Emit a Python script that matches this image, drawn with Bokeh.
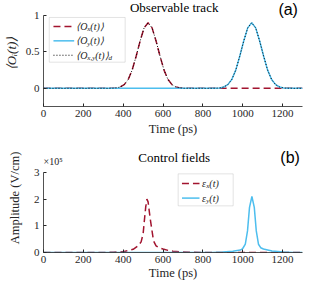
from bokeh.plotting import figure
from bokeh.models import Label, BoxAnnotation, FixedTicker, NumeralTickFormatter, Range1d
from bokeh.layouts import column
from bokeh.embed import file_html
from bokeh.resources import INLINE

# ---------------- data ----------------
obs_time = [0] + list(range(5, 1300, 20)) + [1300]
peak_x = [0.0015, 0.005, 0.018, 0.05, 0.12, 0.25, 0.44, 0.65, 0.83, 0.90,
          0.83, 0.65, 0.44, 0.25, 0.12, 0.05, 0.018, 0.005, 0.0015]
peak_y = [0.0015, 0.005, 0.018, 0.05, 0.12, 0.25, 0.44, 0.65, 0.83, 0.90,
          0.83, 0.65, 0.44, 0.25, 0.12, 0.05, 0.018, 0.005, 0.0015]
obs_x = [0.0] * 18 + peak_x + [0.0] * 30
obs_y = [0.0] * 44 + peak_y + [0.0] * 4
obs_target = [0.0] * 18 + peak_x + [0.0] * 7 + peak_y + [0.0] * 4

ex_time = [0, 300, 350, 400, 450, 475, 490, 500, 507, 513, 519, 525, 530,
           536, 545, 552, 565, 580, 600, 625, 650, 700, 750, 800, 1300]
ex_amp = [0, 0, 0.01, 0.03, 0.12, 0.25, 0.4, 0.7, 1.25, 1.7, 2.0, 1.9, 1.6,
          1.25, 0.8, 0.44, 0.25, 0.18, 0.13, 0.08, 0.05, 0.02, 0.01, 0, 0]
ey_time = [0, 850, 900, 950, 988, 1000, 1013, 1024, 1034, 1046, 1058, 1068,
           1079, 1090, 1104, 1147, 1205, 1250, 1300]
ey_amp = [0, 0, 0.02, 0.05, 0.09, 0.15, 0.31, 0.81, 1.69, 2.1, 1.69, 0.81,
          0.31, 0.18, 0.13, 0.06, 0.02, 0, 0]

time_ticks = [0, 200, 400, 600, 800, 1000, 1200]
obs_ticks = [0, 0.5, 1]
amp_ticks = [0, 1, 2, 3]

RED = "#A2142F"
BLUE = "#4DBEEE"
DARK = "#262626"
SERIF = "Liberation Serif"

EM = {"⟨": 0.39, "⟩": 0.39, "O": 0.72, "x": 0.44, "y": 0.44, "t": 0.28,
      "(": 0.33, ")": 0.33, ",": 0.25, "d": 0.5, "ε": 0.44}


def text_width(s, size):
    return sum(EM.get(c, 0.5) for c in s) * size


def rich(p, x, y, parts, size=10.0):
    dx = 0.0
    for s, sub in parts:
        fs = size * 0.7 if sub else size
        p.add_layout(Label(x=x, y=y, x_offset=dx, y_offset=(-3 if sub else 0),
                           text=s, text_font=SERIF, text_font_style="italic",
                           text_font_size=f"{fs:.1f}px", text_baseline="middle",
                           text_color=DARK))
        dx += text_width(s, fs)


def make_fig(height, yr, ybounds, bottom, ylabel, ylabel_standoff, xlabel_standoff):
    p = figure(width=319, height=height, x_range=Range1d(0, 1300),
               y_range=Range1d(*yr), output_backend="svg", toolbar_location=None,
               min_border_left=43, min_border_right=17, min_border_top=0,
               min_border_bottom=bottom)
    p.outline_line_color = None
    p.grid.visible = False
    for ax in (p.xaxis[0], p.yaxis[0]):
        ax.axis_line_color = DARK
        ax.axis_line_width = 0.8
        ax.major_tick_in = 3
        ax.major_tick_out = 0
        ax.major_tick_line_color = DARK
        ax.minor_tick_line_color = None
        ax.major_label_text_font = SERIF
        ax.major_label_text_font_size = "11px"
        ax.major_label_text_color = DARK
        ax.axis_label_text_font = SERIF
        ax.axis_label_text_font_size = "12.5px"
        ax.axis_label_text_font_style = "normal"
        ax.axis_label_text_color = DARK
    p.xaxis.ticker = FixedTicker(ticks=time_ticks)
    p.xaxis.major_label_standoff = 3
    p.xaxis.axis_label = "Time (ps)"
    p.xaxis.axis_label_standoff = xlabel_standoff
    p.yaxis.bounds = ybounds
    p.yaxis.major_label_standoff = 4
    p.yaxis.axis_label = ylabel
    p.yaxis.axis_label_standoff = ylabel_standoff
    return p


# ---------------- panel (a) ----------------
p1 = make_fig(143, (-0.25, 1.206), (-0.25, 1), 37, "⟨Oᵢ(t)⟩", 4, 2)
p1.yaxis.axis_label_text_font_style = "italic"
p1.yaxis.axis_label_text_font_size = "13px"
p1.yaxis.ticker = FixedTicker(ticks=obs_ticks)
p1.yaxis.formatter = NumeralTickFormatter(format="0.[0]")
p1.line(obs_time, obs_x, line_color=RED, line_width=1.5, line_dash="7 4")
p1.line(obs_time, obs_y, line_color=BLUE, line_width=1.5)
p1.line(obs_time, obs_target, line_color="black", line_width=1, line_dash="1 2")

p1.add_layout(Label(x=656, y=1.11, text="Observable track", text_font=SERIF,
                    text_font_size="13px", text_align="center", text_baseline="middle",
                    text_color="black"))
p1.add_layout(Label(x=1228, y=1.08, text="(a)", text_font="Liberation Sans",
                    text_font_size="16px", text_align="center", text_baseline="middle",
                    text_color="black"))

p1.add_layout(BoxAnnotation(left=29, right=410, top=0.973, bottom=0.359,
                            fill_color="white", fill_alpha=1, line_color="#8c8c8c",
                            line_width=0.8))
p1.segment(x0=[50], y0=[0.85], x1=[154], y1=[0.85], line_color=RED, line_width=1.5,
           line_dash="7 4", level="overlay")
p1.segment(x0=[50], y0=[0.652], x1=[154], y1=[0.652], line_color=BLUE, line_width=1.5,
           level="overlay")
p1.segment(x0=[50], y0=[0.454], x1=[154], y1=[0.454], line_color="black", line_width=1,
           line_dash="1 2", level="overlay")
rich(p1, 164, 0.85, [("⟨O", False), ("x", True), ("(t)⟩", False)])
rich(p1, 164, 0.652, [("⟨O", False), ("y", True), ("(t)⟩", False)])
rich(p1, 164, 0.454, [("⟨O", False), ("x,y", True), ("(t)⟩", False), ("d", True)])

# ---------------- panel (b) ----------------
p2 = make_fig(142, (0, 4.0875), (0, 3), 33, "Amplitude (V/cm)", 9, 0)
p2.yaxis.ticker = FixedTicker(ticks=amp_ticks)
p2.line(ex_time, ex_amp, line_color=RED, line_width=1.5, line_dash="7 4")
p2.line(ey_time, ey_amp, line_color=BLUE, line_width=1.5)

p2.add_layout(Label(x=656, y=3.55, text="Control fields", text_font=SERIF,
                    text_font_size="13px", text_align="center", text_baseline="middle",
                    text_color="black"))
p2.add_layout(Label(x=1238, y=3.55, text="(b)", text_font="Liberation Sans",
                    text_font_size="16px", text_align="center", text_baseline="middle",
                    text_color="black"))
p2.add_layout(Label(x=0, y=3.43, x_offset=0, text="×10⁵", text_font=SERIF,
                    text_font_size="10px", text_align="left", text_baseline="middle",
                    text_color=DARK))

p2.add_layout(BoxAnnotation(left=676, right=952, top=2.95, bottom=1.75,
                            fill_color="white", fill_alpha=1, line_color="#8c8c8c",
                            line_width=0.8))
p2.segment(x0=[695], y0=[2.59], x1=[783], y1=[2.59], line_color=RED, line_width=1.5,
           line_dash="7 4", level="overlay")
p2.segment(x0=[695], y0=[2.04], x1=[783], y1=[2.04], line_color=BLUE, line_width=1.5,
           level="overlay")
rich(p2, 795, 2.59, [("ε", False), ("x", True), ("(t)", False)])
rich(p2, 795, 2.04, [("ε", False), ("y", True), ("(t)", False)])

layout = column(p1, p2)
open("out.html", "w").write(file_html(layout, INLINE))
